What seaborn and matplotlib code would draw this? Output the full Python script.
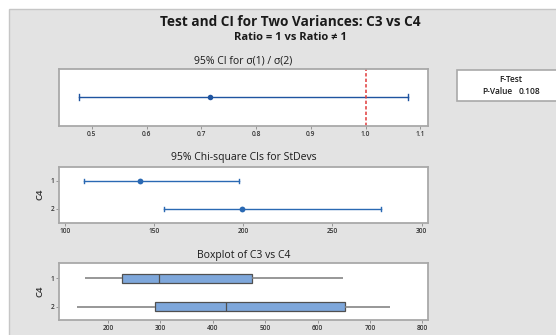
import numpy as np
import pandas as pd
import matplotlib
matplotlib.use("Agg")
import matplotlib.pyplot as plt
from matplotlib.patches import Rectangle
import seaborn as sns

# Ratio of standard deviations sigma(1)/sigma(2): lower bound, estimate, upper bound
ratio_ci = [0.477, 0.716, 1.078]
ratio_ticks = [0.5, 0.6, 0.7, 0.8, 0.9, 1.0, 1.1]

# Chi-square intervals for each StDev: lower bound, estimate, upper bound
groups = ["1", "2"]
sd_ci_1 = [110.8, 142.1, 197.8]
sd_ci_2 = [155.4, 199.1, 277.1]
sd_ticks = [100, 150, 200, 250, 300]

# Five-number summaries of C3 within each level of C4
c3_group_1 = [157, 227, 297, 474, 648]
c3_group_2 = [141, 290, 425, 652, 738]
box_ticks = [200, 300, 400, 500, 600, 700, 800]

p_value = 0.108

plt.rcParams["font.family"] = ["Open Sans", "DejaVu Sans"]

W, H = 556, 335
fig = plt.figure(figsize=(W / 100, H / 100), dpi=100)
fig.patch.set_facecolor("white")

# grey graph region
fig.add_artist(Rectangle((9 / W, -0.05), 1.1, 1.05 - 9 / H, transform=fig.transFigure,
                         facecolor="#E3E3E3", edgecolor="#C6C6C6", linewidth=1.0, zorder=-10))


def panel(top, bottom):
    return fig.add_axes([59 / W, 1 - bottom / H, (428 - 59) / W, (bottom - top) / H])


def style(ax):
    ax.set_facecolor("white")
    for s in ax.spines.values():
        s.set_color("#A9A9A9")
        s.set_linewidth(1.3)
    ax.tick_params(length=2, width=0.6, color="#8A8A8A", labelsize=4.8,
                   labelcolor="#333333", pad=1.5)
    for lab in ax.get_xticklabels() + ax.get_yticklabels():
        lab.set_fontweight("semibold")


def ci_range(v):
    return (np.min(v), np.max(v))


txt = dict(color="#1A1A1A", ha="center", va="center")
fig.text(290 / W, 1 - 22 / H, "Test and CI for Two Variances: C3 vs C4",
         fontsize=9.8, fontweight="bold", **txt)
fig.text(290 / W, 1 - 37.5 / H, "Ratio = 1 vs Ratio \u2260 1",
         fontsize=8.0, fontweight="bold", **txt)

# ---- panel 1: CI for ratio of sigmas
ax1 = panel(69, 125.7)
df1 = pd.DataFrame({"ratio": ratio_ci, "row": ["r"] * len(ratio_ci)})
sns.pointplot(data=df1, x="ratio", y="row", orient="h", estimator="median",
              errorbar=ci_range, capsize=0.11, color="#1F54A0", linestyle="none",
              markersize=4.0, markeredgewidth=0, err_kws={"linewidth": 1.0}, ax=ax1)
ax1.axvline(1.0, color="#E03A3A", linestyle=(0, (2.2, 1.4)), linewidth=1.1)
ax1.set_xlim(0.4403, 1.1137)
ax1.set_ylim(0.5, -0.5)
ax1.set_xticks(ratio_ticks)
ax1.set_xticklabels([f"{t:.1f}" for t in ratio_ticks])
ax1.set_yticks([])
ax1.set_xlabel("")
ax1.set_ylabel("")
style(ax1)
ax1.text(0.5, 1.14, "95% CI for \u03c3(1) / \u03c3(2)", transform=ax1.transAxes,
         fontsize=7.5, **txt)

# ---- panel 2: chi-square CIs for StDevs
ax2 = panel(166.7, 222.7)
df2 = pd.DataFrame({"sd": sd_ci_1 + sd_ci_2,
                    "C4": [groups[0]] * len(sd_ci_1) + [groups[1]] * len(sd_ci_2)})
sns.pointplot(data=df2, x="sd", y="C4", orient="h", estimator="median",
              errorbar=ci_range, capsize=0.13, color="#2A69B3", linestyle="none",
              markersize=4.2, markeredgewidth=0, err_kws={"linewidth": 1.0}, ax=ax2)
ax2.set_xlim(96.6, 303.6)
ax2.set_ylim(1.5, -0.5)
ax2.set_xticks(sd_ticks)
ax2.set_xlabel("")
ax2.set_ylabel("C4", fontsize=6.8, fontweight="semibold", color="#333333", labelpad=4)
style(ax2)
ax2.text(0.5, 1.168, "95% Chi-square CIs for StDevs", transform=ax2.transAxes,
         fontsize=7.5, **txt)

# ---- panel 3: boxplot of C3 by C4
ax3 = panel(263.3, 320)
df3 = pd.DataFrame({"C3": c3_group_1 + c3_group_2,
                    "C4": [groups[0]] * len(c3_group_1) + [groups[1]] * len(c3_group_2)})
sns.boxplot(data=df3, x="C3", y="C4", orient="h", width=0.34, color="#7EA7DB",
            saturation=1, linecolor="#505050", linewidth=0.9, showcaps=False,
            fliersize=0, whiskerprops={"color": "#858585", "linewidth": 1.2}, ax=ax3)
ax3.set_xlim(106.5, 810.7)
ax3.set_ylim(1.47, -0.53)
ax3.set_xticks(box_ticks)
ax3.set_xlabel("")
ax3.set_ylabel("C4", fontsize=6.8, fontweight="semibold", color="#333333", labelpad=4)
style(ax3)
ax3.text(0.5, 1.146, "Boxplot of C3 vs C4", transform=ax3.transAxes,
         fontsize=7.5, **txt)

# ---- F-test summary box
fig.add_artist(Rectangle((457 / W, 1 - 101 / H), 0.2, 31 / H, transform=fig.transFigure,
                         facecolor="white", edgecolor="#A9A9A9", linewidth=1.2))
fig.text(511 / W, 1 - 79.5 / H, "F-Test", fontsize=6.0, fontweight="semibold", **txt)
fig.text(482 / W, 1 - 91.5 / H, "P-Value", fontsize=6.0, fontweight="semibold",
         color="#1A1A1A", ha="left", va="center")
fig.text(540 / W, 1 - 91.5 / H, f"{p_value:.3f}", fontsize=6.0, fontweight="semibold",
         color="#1A1A1A", ha="right", va="center")

fig.savefig("out.png", dpi=100)
